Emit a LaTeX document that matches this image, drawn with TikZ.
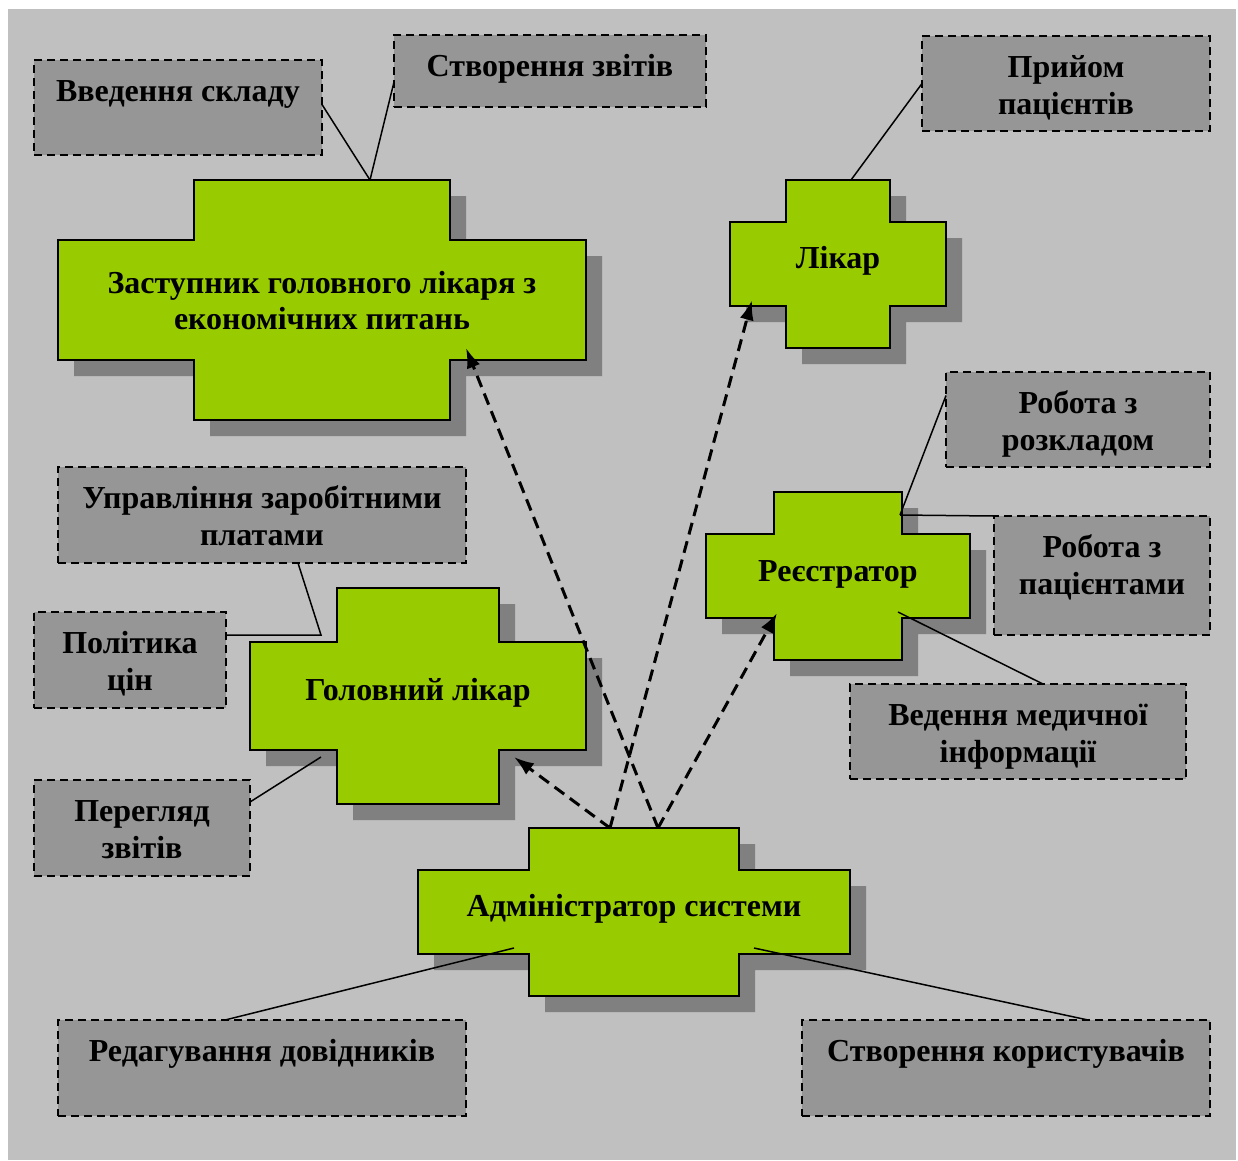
\documentclass[tikz,border=0pt]{standalone}
\usepackage{fontspec}
\setmainfont{Liberation Serif}
\usetikzlibrary{arrows.meta,calc}
\definecolor{bggray}{RGB}{192,192,192}
\definecolor{boxgray}{RGB}{150,150,150}
\definecolor{shadowgray}{RGB}{128,128,128}
\definecolor{crossgreen}{RGB}{153,204,0}
\newcommand\boxfont{\fontsize{32}{37.5}\selectfont\bfseries}
\newcommand\boxtext[3]{\parbox[c][#2][t]{#1}{\centering\vspace*{15pt}\strut #3\par}}
\newcommand\drawplus[8]{%
  \fill[shadowgray, shift={(16,16)}] (#2,#5) -- (#3,#5) -- (#3,#6) -- (#4,#6) -- (#4,#7) -- (#3,#7) -- (#3,#8) -- (#2,#8) -- (#2,#7) -- (#1,#7) -- (#1,#6) -- (#2,#6) -- cycle;
  \draw[crossshape] (#2,#5) -- (#3,#5) -- (#3,#6) -- (#4,#6) -- (#4,#7) -- (#3,#7) -- (#3,#8) -- (#2,#8) -- (#2,#7) -- (#1,#7) -- (#1,#6) -- (#2,#6) -- cycle;}
\tikzset{
  tbox/.style={draw=black, line width=1.8pt, dash pattern=on 8pt off 5pt, fill=boxgray, inner sep=0pt, outer sep=0pt, anchor=north west, font=\boxfont},
  crossshape/.style={draw=black, line width=2pt, fill=crossgreen, line join=miter},
  ctext/.style={font=\boxfont, inner sep=0pt, anchor=base},
  link/.style={draw=black, line width=1.5pt},
  dep/.style={draw=black, line width=3pt, dash pattern=on 12pt off 7pt, -{Latex[length=20pt,width=14pt]}}
}
\begin{document}
\begin{tikzpicture}[x=1pt, y=-1pt]
\useasboundingbox (0,0) rectangle (1238,1160);
\fill[white] (0,0) rectangle (1238,1160);
\fill[bggray] (8,9) rectangle (1236,1160);

% text boxes
\node[tbox] (vs) at (34,60) {\boxtext{288pt}{95pt}{Введення складу}};
\node[tbox] (sz) at (394,35) {\boxtext{312pt}{72pt}{Створення звітів}};
\node[tbox] (pp) at (922,36) {\boxtext{288pt}{95pt}{Прийом\\пацієнтів}};
\node[tbox] (rr) at (946,372) {\boxtext{264pt}{95pt}{Робота з\\розкладом}};
\node[tbox] (rp) at (994,516) {\boxtext{216pt}{119pt}{Робота з\\пацієнтами}};
\node[tbox] (vm) at (850,684) {\boxtext{336pt}{95pt}{Ведення медичної\\інформації}};
\node[tbox] (uz) at (58,467) {\boxtext{408pt}{96pt}{Управління заробітними\\платами}};
\node[tbox] (pc) at (34,612) {\boxtext{192pt}{96pt}{Політика\\цін}};
\node[tbox] (pz) at (34,780) {\boxtext{216pt}{96pt}{Перегляд\\звітів}};
\node[tbox] (rd) at (58,1020) {\boxtext{408pt}{96pt}{Редагування довідників}};
\node[tbox] (sk) at (802,1020) {\boxtext{408pt}{96pt}{Створення користувачів}};

% crosses
\drawplus{58}{194}{450}{586}{180}{240}{360}{420}
\drawplus{730}{786}{890}{946}{180}{222}{306}{348}
\drawplus{706}{774}{902}{970}{492}{534}{618}{660}
\drawplus{250}{337}{499}{586}{588}{642}{750}{804}
\drawplus{418}{529}{739}{850}{828}{870}{954}{996}

\node[ctext] (zast) at (322,293) {\parbox[t]{500pt}{\centering\fontsize{32}{36}\selectfont Заступник головного лікаря з\\економічних питань}};
\node[ctext] (likar) at (838,268) {Лікар};
\node[ctext] (reg) at (838,581) {Реєстратор};
\node[ctext] (golov) at (418,700) {Головний лікар};
\node[ctext] (admin) at (634,916) {Адміністратор системи};

% connector points
\coordinate (zast-top) at (370,180);
\coordinate (zast-in) at (466,348);
\coordinate (likar-top) at (851,180);
\coordinate (likar-in) at (752,300);
\coordinate (reg-top) at (900,515);
\coordinate (reg-low) at (898,612);
\coordinate (reg-in) at (777,613);
\coordinate (golov-tl) at (321,635);
\coordinate (golov-bl) at (321,757);
\coordinate (golov-in) at (514,757);
\coordinate (adm-a) at (610,828);
\coordinate (adm-b) at (658,828);
\coordinate (adm-l) at (514,948);
\coordinate (adm-r) at (754,948);

% solid links
\draw[link] ([yshift=3pt]vs.east) -- (zast-top);
\draw[link] ([yshift=-11pt]sz.west) -- (zast-top);
\draw[link] (pp.west) -- (likar-top);
\draw[link] ([yshift=24pt]rr.west) -- (reg-top);
\draw[link] (reg-top) -- (rp.north west);
\draw[link] (reg-low) -- ([xshift=25pt]vm.north);
\draw[link] ([xshift=36pt]uz.south) -- (golov-tl) -- ([yshift=25pt]pc.east);
\draw[link] ([yshift=26pt]pz.east) -- (golov-bl);
\draw[link] ([xshift=-37pt]rd.north) -- (adm-l);
\draw[link] ([xshift=82pt]sk.north) -- (adm-r);

% dashed arrows
\draw[dep] (adm-b) -- (zast-in);
\draw[dep] (adm-a) -- (likar-in);
\draw[dep] (adm-a) -- (golov-in);
\draw[dep] (adm-b) -- (reg-in);
\end{tikzpicture}
\end{document}
